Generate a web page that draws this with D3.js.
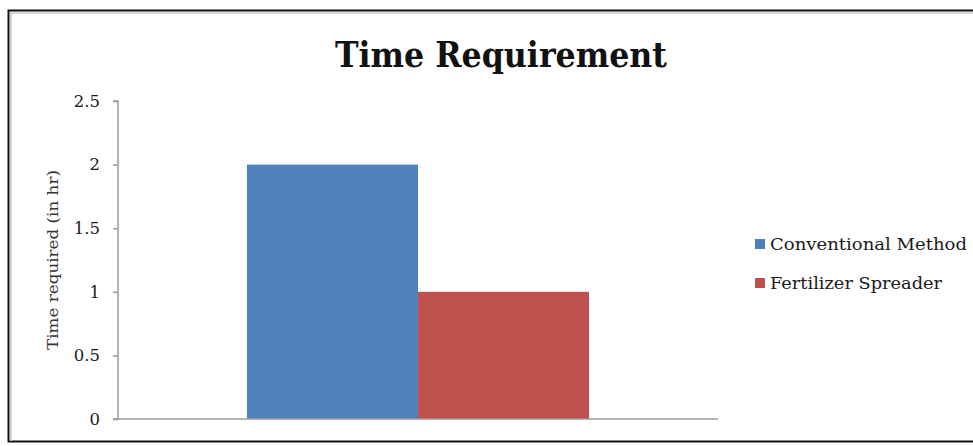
<!DOCTYPE html>
<html>
<head>
<meta charset="utf-8">
<script src="https://cdn.jsdelivr.net/npm/d3@7/dist/d3.min.js"></script>
<style>
  html, body { margin: 0; padding: 0; background: #ffffff; }
  svg { display: block; }
</style>
</head>
<body>
<svg id="chart" width="973" height="446"></svg>
<script>
// Chart data
const categories = ["Time"];
const seriesNames = ["Conventional Method", "Fertilizer Spreader"];
const seriesValues = [2, 1];
const seriesColors = ["#4f81bd", "#c0504d"];
const yTicks = [0, 0.5, 1, 1.5, 2, 2.5];
const yTickLabels = ["0", "0.5", "1", "1.5", "2", "2.5"];

const svg = d3.select("#chart");
const W = 973, H = 446;
const serif = "'DejaVu Serif', 'Liberation Serif', serif";

// Outer frame
svg.append("rect").attr("x", 8.5).attr("y", 10.5).attr("width", W + 10).attr("height", 431)
  .attr("fill", "#fff").attr("stroke", "#111").attr("stroke-width", 2);
svg.append("line").attr("x1", 10).attr("x2", W).attr("y1", 13).attr("y2", 13)
  .attr("stroke", "#c8c8c8").attr("stroke-width", 1.5);
svg.append("line").attr("x1", 11).attr("x2", 11).attr("y1", 12).attr("y2", 441)
  .attr("stroke", "#c8c8c8").attr("stroke-width", 1.5);

// Plot area
const plot = { left: 118, right: 718, top: 101, bottom: 419 };

const x0 = d3.scaleBand().domain(categories).range([plot.left, plot.right]).paddingInner(0).paddingOuter(0.377);
const x1 = d3.scaleBand().domain(seriesNames).range([0, x0.bandwidth()]).padding(0);
const y = d3.scaleLinear().domain([0, 2.5]).range([plot.bottom, plot.top]);

// Title
svg.append("text").attr("x", 501).attr("y", 67).attr("text-anchor", "middle")
  .attr("font-family", serif).attr("font-weight", "bold").attr("font-size", 36)
  .attr("textLength", 332).attr("lengthAdjust", "spacingAndGlyphs")
  .attr("fill", "#111").text("Time Requirement");

// Bars
const g = svg.append("g");
categories.forEach(cat => {
  g.selectAll(null).data(seriesNames).enter().append("rect")
    .attr("x", (d) => x0(cat) + x1(d))
    .attr("y", (d, i) => y(seriesValues[i]))
    .attr("width", x1.bandwidth())
    .attr("height", (d, i) => y(0) - y(seriesValues[i]))
    .attr("fill", (d, i) => seriesColors[i]);
});

// Y axis
const yAxis = d3.axisLeft(y).tickValues(yTicks)
  .tickFormat((d, i) => yTickLabels[i]).tickSize(5).tickPadding(13);
const yg = svg.append("g").attr("transform", `translate(${plot.left},0)`).call(yAxis);
yg.select(".domain").attr("stroke", "#9a9a9a").attr("stroke-width", 1.5)
  .attr("d", `M-5,${plot.top}H0V${plot.bottom}`);
yg.selectAll(".tick line").attr("stroke", "#9a9a9a").attr("stroke-width", 1.5);
yg.selectAll(".tick text").attr("font-family", serif).attr("font-size", 16.5).attr("fill", "#1a1a1a");

// X axis (baseline only)
svg.append("line").attr("x1", plot.left - 5).attr("x2", plot.right).attr("y1", y(0)).attr("y2", y(0))
  .attr("stroke", "#9a9a9a").attr("stroke-width", 1.5);

// Y axis title
svg.append("text").attr("transform", `translate(58,${(plot.top + plot.bottom) / 2}) rotate(-90)`)
  .attr("text-anchor", "middle").attr("font-family", serif).attr("font-size", 15)
  .attr("textLength", 180).attr("lengthAdjust", "spacingAndGlyphs")
  .attr("fill", "#333").text("Time required (in hr)");

// Legend
const legendWidths = [197, 172];
const legend = svg.append("g").attr("transform", "translate(755,244)");
seriesNames.forEach((name, i) => {
  const row = legend.append("g").attr("transform", `translate(0,${i * 39})`);
  row.append("rect").attr("x", 0).attr("y", -5).attr("width", 10).attr("height", 10)
    .attr("fill", seriesColors[i]);
  row.append("text").attr("x", 15).attr("y", 6).attr("font-family", serif)
    .attr("font-size", 17).attr("textLength", legendWidths[i]).attr("lengthAdjust", "spacingAndGlyphs")
    .attr("fill", "#1a1a1a").text(name);
});
</script>
</body>
</html>
